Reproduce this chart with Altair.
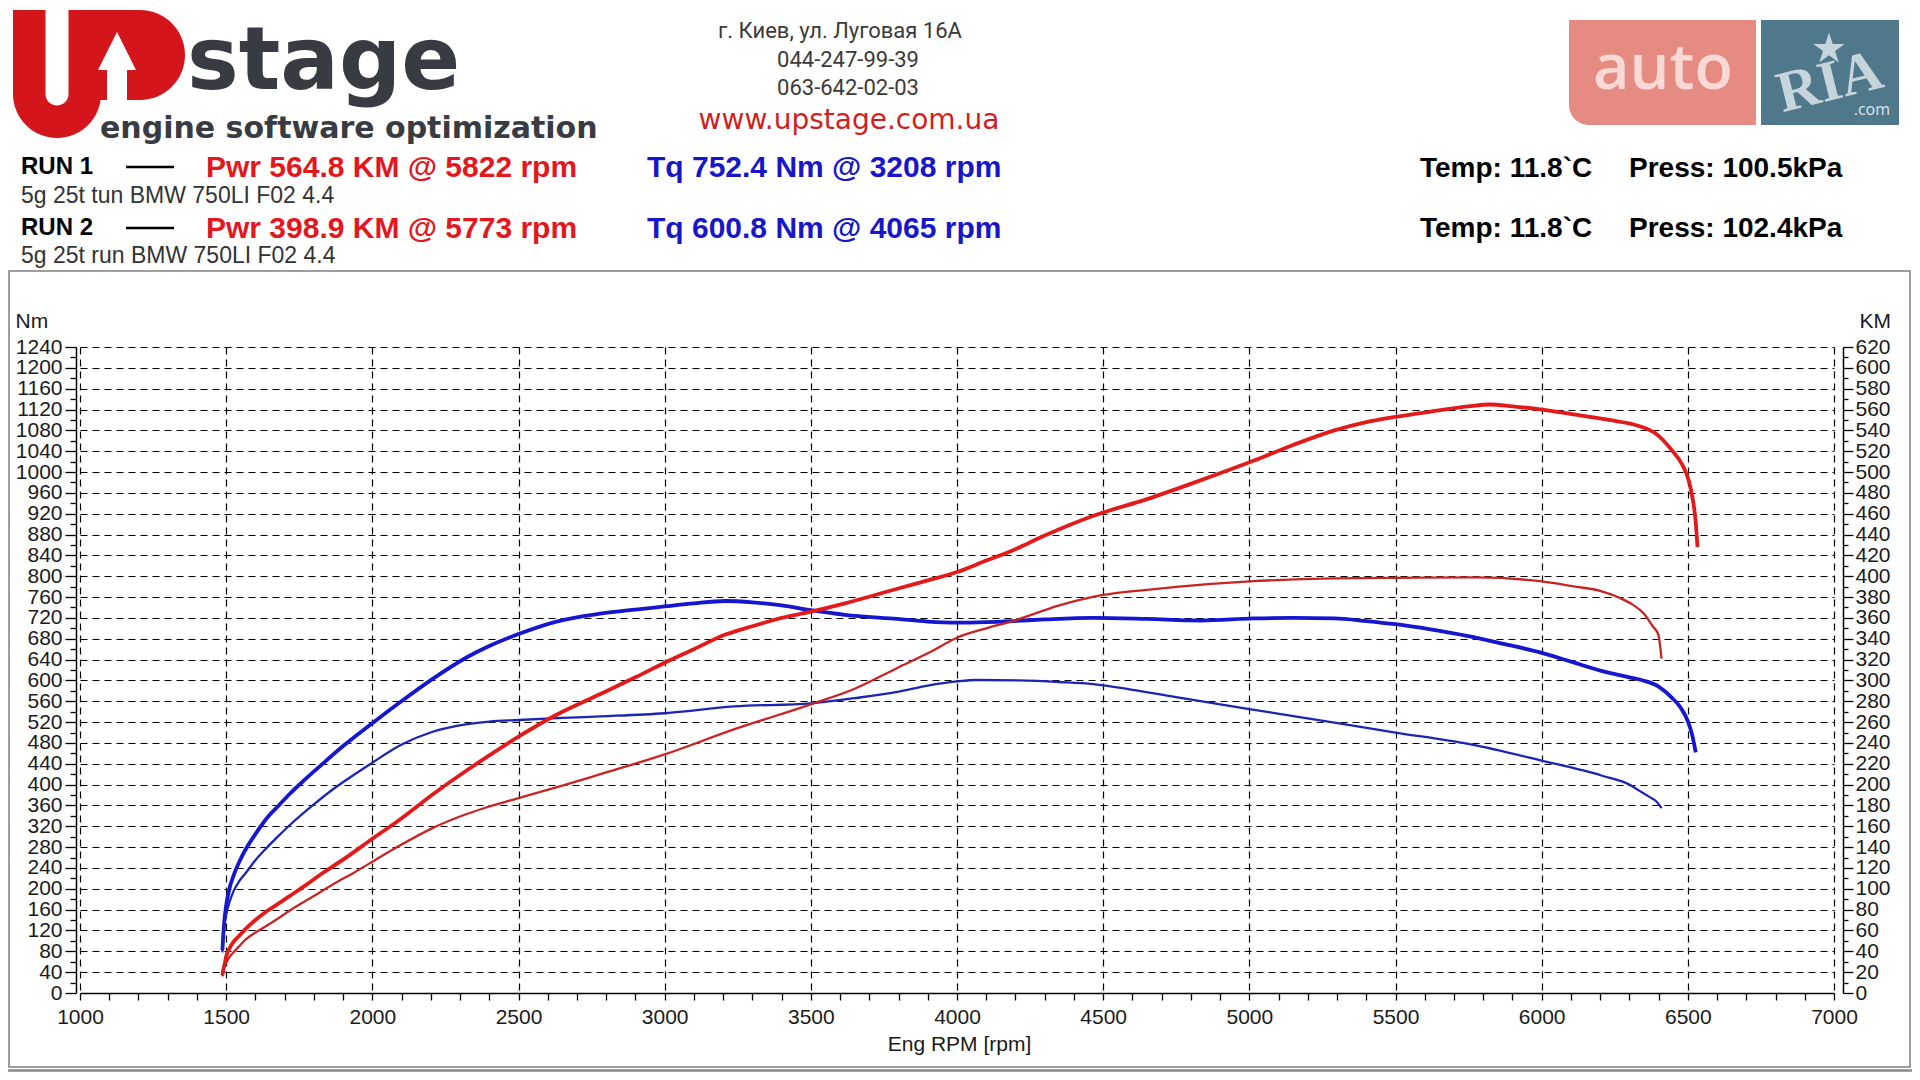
import altair as alt
import pandas as pd

# ---------------- data read from the dyno sheet ----------------
run_names = ["RUN 1", "RUN 2"]
run_desc = ["5g 25t tun BMW 750LI F02 4.4", "5g 25t run BMW 750LI F02 4.4"]
pwr_text = ["Pwr  564.8 KM @ 5822 rpm", "Pwr  398.9 KM @ 5773 rpm"]
tq_text = ["Tq 752.4 Nm @ 3208 rpm", "Tq 600.8 Nm @ 4065 rpm"]
temp_text = ["Temp: 11.8`C", "Temp: 11.8`C"]
press_text = ["Press: 100.5kPa", "Press: 102.4kPa"]
address_lines = ["г. Киев, ул. Луговая 16А", "044-247-99-39", "063-642-02-03"]
website = "www.upstage.com.ua"
brand_word = "stage"
brand_tagline = "engine software optimization"
ad_words = ["auto", "RIA", ".com"]
x_title = "Eng RPM [rpm]"
y_left_title = "Nm"
y_right_title = "KM"

# Run 1 torque (Nm)
rpm_tq_run1 = [1487, 1490, 1494, 1500, 1510, 1525, 1545, 1565, 1600, 1641, 1680, 1717, 1770,
               1824, 1900, 2000, 2097, 2204, 2325, 2400, 2500, 2630, 2780, 2900, 3000, 3100,
               3208, 3300, 3400, 3500, 3617, 3796, 3900, 4000, 4100, 4192, 4300, 4467, 4650,
               4833, 5016, 5150, 5291, 5400, 5500, 5620, 5749, 5870, 6000, 6100, 6207, 6300,
               6353, 6400, 6445, 6475, 6500, 6515, 6527]
tq_run1 = [82, 110, 140, 168, 198, 225, 252, 274, 305, 337, 360, 382, 410,
           437, 474, 518, 559, 602, 645, 666, 689, 713, 728, 736, 742, 748,
           752.4, 750, 744, 735, 726, 718, 713, 711, 712, 714, 717, 720, 718,
           715, 719, 720, 719, 714, 708, 698, 685, 670, 653, 636, 618, 606,
           599, 588, 567, 548, 522, 495, 462]

# Run 2 torque (Nm)
rpm_tq_run2 = [1487, 1490, 1494, 1500, 1510, 1525, 1545, 1565, 1600, 1641, 1680, 1717, 1800,
               1870, 1940, 2000, 2097, 2204, 2325, 2400, 2500, 2650, 2780, 3000, 3237, 3500,
               3650, 3796, 3900, 4000, 4065, 4210, 4350, 4467, 4600, 4760, 5000, 5291, 5500,
               5749, 6000, 6207, 6300, 6335, 6370, 6390, 6410]
tq_run2 = [78, 105, 130, 150, 172, 195, 215, 229, 255, 280, 302, 322, 362,
           393, 420, 442, 476, 501, 516, 521, 524, 528, 531, 537, 550, 556,
           566, 578, 590, 598, 600.8, 600, 597, 593, 582, 567, 545, 519, 500,
           478, 446, 417, 400, 388, 376, 369, 355]

# Run 1 power (KM)
rpm_pw_run1 = [1487, 1490, 1495, 1500, 1510, 1525, 1545, 1565, 1600, 1641, 1680, 1717, 1770,
               1824, 1900, 2000, 2097, 2204, 2325, 2400, 2500, 2630, 2780, 2900, 3000, 3100,
               3208, 3300, 3400, 3500, 3617, 3796, 3900, 4000, 4100, 4192, 4300, 4467, 4650,
               4833, 5016, 5150, 5291, 5400, 5500, 5620, 5749, 5822, 5900, 6000, 6115, 6230,
               6335, 6390, 6445, 6481, 6504, 6518, 6527, 6533]
pw_run1 = [17, 22, 28, 35, 42, 49, 55, 61, 70, 79, 86, 93, 103,
           114, 128, 148, 167, 190, 214, 228, 246, 267, 287, 303, 317, 330,
           344, 352, 360, 366, 374, 388, 396, 404, 415, 425, 439, 458, 474,
           492, 511, 526, 540, 548, 553, 558, 563, 564.8, 563, 560, 555, 550,
           544, 537, 521, 507, 491, 472, 452, 428]

# Run 2 power (KM)
rpm_pw_run2 = [1487, 1490, 1494, 1500, 1510, 1525, 1545, 1565, 1600, 1641, 1680, 1717, 1800,
               1870, 1940, 2000, 2097, 2204, 2325, 2400, 2500, 2650, 2780, 3000, 3237, 3500,
               3650, 3796, 3900, 4000, 4100, 4192, 4350, 4500, 4650, 4760, 5000, 5291, 5500,
               5773, 6000, 6115, 6200, 6260, 6310, 6350, 6380, 6399, 6410]
pw_run2 = [16, 22, 28, 29, 34, 39, 45, 51, 58, 65, 72, 79, 93,
           105, 116, 126, 142, 158, 172, 179, 187, 199, 210, 229, 253, 277,
           292, 312, 326, 341, 350, 357, 372, 382, 387, 390, 395, 398, 398.5,
           398.9, 395, 390, 386, 380, 373, 364, 352, 344, 321]

rpm_ticks = list(range(1000, 7001, 100))
nm_ticks = list(range(0, 1241, 20))
km_ticks = list(range(0, 621, 10))

torque_df = pd.concat([
    pd.DataFrame({"rpm": rpm_tq_run1, "value": tq_run1, "run": run_names[0]}),
    pd.DataFrame({"rpm": rpm_tq_run2, "value": tq_run2, "run": run_names[1]}),
])
power_df = pd.concat([
    pd.DataFrame({"rpm": rpm_pw_run1, "value": pw_run1, "run": run_names[0]}),
    pd.DataFrame({"rpm": rpm_pw_run2, "value": pw_run2, "run": run_names[1]}),
])

# ---------------- styling ----------------
FONT = "Liberation Sans"
INK = "#1a1a1a"
RED = "#e3171e"
BLUE = "#1717c9"
tq_colors = ["#1616d0", "#1c24b4"]
pw_colors = ["#e41a1a", "#c92424"]
line_widths = [3.8, 2.3]
W, H = 1754, 646
one = pd.DataFrame({"k": [0]})

x_scale = alt.Scale(domain=[1000, 7000], nice=False, zero=False)

x_axis = alt.Axis(
    values=rpm_ticks, format="d",
    labelExpr="datum.value % 500 === 0 ? datum.label : ''",
    labelFont=FONT, labelFontSize=21, labelColor=INK, labelPadding=6,
    labelFlush=False, labelOverlap=False, labelBound=False,
    tickSize=7, tickColor="#000", tickWidth=1.3,
    domainColor="#000", domainWidth=1.5,
    grid=True, gridColor="#000", gridDash=[7, 5], gridWidth=1.2,
    gridOpacity={"condition": {"test": "datum.value % 500 === 0", "value": 1}, "value": 0},
    title=x_title, titleFont=FONT, titleFontSize=21, titleFontWeight="normal",
    titleColor=INK, titleX=879, titleY=51, titleBaseline="middle", titleAlign="center",
)

nm_axis = alt.Axis(
    orient="left", offset=4,
    values=nm_ticks, format="d",
    labelExpr="datum.value % 40 === 0 ? datum.label : ''",
    labelFont=FONT, labelFontSize=21, labelColor=INK, labelPadding=3,
    labelFlush=False, labelOverlap=False, labelBound=False,
    tickSize={"condition": {"test": "datum.value % 40 === 0", "value": 11}, "value": 6},
    tickColor="#000", tickWidth=1.3,
    domainColor="#000", domainWidth=1.5,
    grid=True, gridColor="#000", gridDash=[7, 5], gridWidth=1.2,
    gridOpacity={"condition": {"test": "datum.value % 40 === 0 && datum.value > 0", "value": 1}, "value": 0},
    title=y_left_title, titleFont=FONT, titleFontSize=21, titleFontWeight="normal",
    titleColor=INK, titleAngle=0, titleX=-61, titleY=-26, titleAlign="left", titleBaseline="middle",
)

km_axis = alt.Axis(
    orient="right", offset=9,
    values=km_ticks, format="d",
    labelExpr="datum.value % 20 === 0 ? datum.label : ''",
    labelFont=FONT, labelFontSize=21, labelColor=INK, labelPadding=2,
    labelFlush=False, labelOverlap=False, labelBound=False,
    tickSize={"condition": {"test": "datum.value % 20 === 0", "value": 10}, "value": 5},
    tickColor="#000", tickWidth=1.3,
    domainColor="#000", domainWidth=1.5,
    grid=False,
    title=y_right_title, titleFont=FONT, titleFontSize=21, titleFontWeight="normal",
    titleColor=INK, titleAngle=0, titleX=16, titleY=-26, titleAlign="left", titleBaseline="middle",
)

torque = alt.Chart(torque_df).mark_line(interpolate="monotone").encode(
    x=alt.X("rpm:Q", scale=x_scale, axis=x_axis),
    y=alt.Y("value:Q", scale=alt.Scale(domain=[0, 1240], nice=False), axis=nm_axis),
    color=alt.Color("run:N", scale=alt.Scale(domain=run_names, range=tq_colors), legend=None),
    strokeWidth=alt.StrokeWidth("run:N", scale=alt.Scale(domain=run_names, range=line_widths), legend=None),
)

power = alt.Chart(power_df).mark_line(interpolate="monotone").encode(
    x=alt.X("rpm:Q", scale=x_scale, axis=x_axis),
    y=alt.Y("value:Q", scale=alt.Scale(domain=[0, 620], nice=False), axis=km_axis),
    color=alt.Color("run:N", scale=alt.Scale(domain=run_names, range=pw_colors), legend=None),
    strokeWidth=alt.StrokeWidth("run:N", scale=alt.Scale(domain=run_names, range=line_widths), legend=None),
)


def txt(s, x, y, size, color=INK, font=FONT, weight="normal", align="left",
        baseline="middle", angle=None):
    kw = dict(text=s, fontSize=size, color=color, font=font, fontWeight=weight,
              align=align, baseline=baseline)
    if angle is not None:
        kw["angle"] = angle
    return alt.Chart(one).mark_text(**kw).encode(x=alt.value(x), y=alt.value(y))


def box(x, x2, y, y2, color, **kw):
    return alt.Chart(one).mark_rect(color=color, **kw).encode(
        x=alt.value(x), x2=alt.value(x2), y=alt.value(y), y2=alt.value(y2))


def hline(x, x2, y, color, width):
    return alt.Chart(one).mark_rule(color=color, strokeWidth=width).encode(
        x=alt.value(x), x2=alt.value(x2), y=alt.value(y))


LOGO_RED = "#d4151b"
LOGO_GREY = "#383b41"
ARROW = "M-1,1L0,-1L1,1Z"
STAR = ("M0,-1L0.225,-0.309L0.951,-0.309L0.363,0.118L0.588,0.809L0,0.382"
        "L-0.588,0.809L-0.363,0.118L-0.951,-0.309L-0.225,-0.309Z")

decor = [
    # panel frame around the graph
    alt.Chart(one).mark_rect(fillOpacity=0, stroke="#808080", strokeWidth=1.5).encode(
        x=alt.value(-71), x2=alt.value(1830), y=alt.value(-76), y2=alt.value(720)),
    hline(-72, 1832, 723.5, "#8a8a8a", 2.5),
    # Upstage logo
    box(-67, 21, -337, -209, LOGO_RED, cornerRadiusBottomLeft=44, cornerRadiusBottomRight=44),
    box(-12, 105, -337, -247, LOGO_RED, cornerRadiusTopRight=45, cornerRadiusBottomRight=45),
    box(-34.5, -11.5, -345, -241.5, "white", cornerRadiusBottomLeft=11.5, cornerRadiusBottomRight=11.5),
    box(27, 47, -279, -246, "white"),
    alt.Chart(one).mark_point(shape=ARROW, filled=True, fill="white", size=1444, opacity=1,
                              strokeWidth=0).encode(x=alt.value(37), y=alt.value(-296)),
    txt(brand_word, 107, -258, 87, color=LOGO_GREY, font="DejaVu Sans", weight="bold",
        baseline="alphabetic"),
    txt(brand_tagline, 20, -209, 30, color=LOGO_GREY, font="DejaVu Sans", weight="bold",
        baseline="alphabetic"),
    # auto RIA logo
    box(1489, 1676, -327, -222, "#e58b82", cornerRadiusBottomLeft=20),
    box(1681, 1819, -327, -222, "#4f788b"),
    txt(ad_words[0], 1583, -258, 63, color="#f9d8d5", font="Open Sans", weight=600,
        align="center", baseline="alphabetic"),
    txt(ad_words[1], 1750, -264, 58, color="#c6d4db", font="Liberation Serif", weight="bold",
        align="center", angle=346),
    alt.Chart(one).mark_point(shape=STAR, filled=True, fill="#c6d4db", size=1100, opacity=1,
                              strokeWidth=0).encode(x=alt.value(1749), y=alt.value(-298)),
    txt(ad_words[2], 1810, -237, 16, color="#dde6ea", font="Open Sans", align="right"),
    # address block
    txt(address_lines[0], 760, -316, 22, color="#3a3a3a", font="Roboto", align="center"),
    txt(address_lines[1], 768, -287, 22, color="#3a3a3a", font="Roboto", align="center"),
    txt(address_lines[2], 768, -259, 22, color="#3a3a3a", font="Roboto", align="center"),
    txt(website, 769, -226, 28, color="#d11f1f", font="DejaVu Sans", align="center"),
    # run rows
    txt(run_names[0], -59, -180, 24, color="#000", weight="bold"),
    hline(46, 94, -180, "#000", 2.5),
    txt(pwr_text[0], 126, -179, 30, color=RED, weight="bold"),
    txt(tq_text[0], 567, -179, 30, color=BLUE, weight="bold"),
    txt(run_desc[0], -59, -151, 23, color="#333"),
    txt(run_names[1], -59, -119, 24, color="#000", weight="bold"),
    hline(46, 94, -119, "#000", 2.5),
    txt(pwr_text[1], 126, -118.5, 30, color=RED, weight="bold"),
    txt(tq_text[1], 567, -118.5, 30, color=BLUE, weight="bold"),
    txt(run_desc[1], -59, -91, 23, color="#333"),
    txt(temp_text[0], 1340, -178, 28, color="#000", weight="bold"),
    txt(press_text[0], 1549, -178, 28, color="#000", weight="bold"),
    txt(temp_text[1], 1340, -118, 28, color="#000", weight="bold"),
    txt(press_text[1], 1549, -118, 28, color="#000", weight="bold"),
]

chart = alt.layer(torque, power, *decor).resolve_scale(
    y="independent", color="independent", strokeWidth="independent"
).properties(
    width=W, height=H,
    padding={"left": 72, "top": 339, "right": 78, "bottom": 79},
    autosize=alt.AutoSizeParams(type="none"),
    background="white",
).configure_view(stroke=None)

chart.save("out.html", embed_options={"renderer": "svg", "actions": False})
